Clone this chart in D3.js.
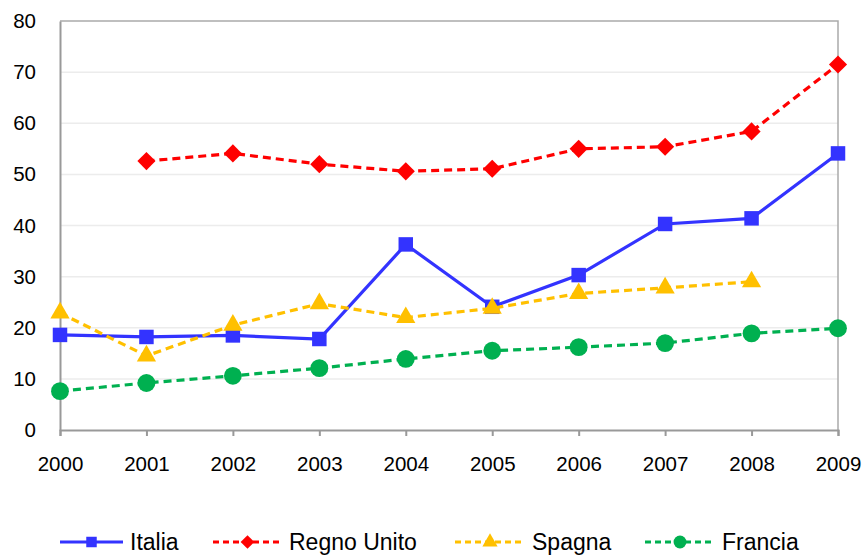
<!DOCTYPE html>
<html>
<head>
<meta charset="utf-8">
<script src="https://cdn.jsdelivr.net/npm/d3@7"></script>
<style>
  body { margin: 0; background: #fff; }
  svg text { font-family: "Liberation Sans", Arial, sans-serif; fill: #000; }
</style>
</head>
<body>
<div id="chart"></div>
<script>
// data
const years = [2000, 2001, 2002, 2003, 2004, 2005, 2006, 2007, 2008, 2009];
const italia = [18.6, 18.2, 18.5, 17.8, 36.3, 24.1, 30.3, 40.3, 41.4, 54.1];
const regnoUnito = [null, 52.6, 54.1, 52.0, 50.6, 51.1, 55.0, 55.4, 58.4, 71.5];
const spagna = [22.9, 14.5, 20.5, 24.7, 22.0, 23.8, 26.7, 27.8, 29.0, null];
const francia = [7.6, 9.2, 10.6, 12.1, 13.9, 15.5, 16.2, 17.0, 18.9, 19.9];
const yTicks = [0, 10, 20, 30, 40, 50, 60, 70, 80];

const series = [
  { name: "Italia", values: italia, color: "#3333ff", dash: null, marker: "square" },
  { name: "Regno Unito", values: regnoUnito, color: "#ff0000", dash: "8,5", marker: "diamond" },
  { name: "Spagna", values: spagna, color: "#ffc000", dash: "8,5", marker: "triangle" },
  { name: "Francia", values: francia, color: "#00b050", dash: "8,5", marker: "circle" }
];

const width = 863, height = 555;
const margin = { top: 21, right: 25, bottom: 125, left: 60 };

const svg = d3.select("#chart").append("svg")
  .attr("width", width)
  .attr("height", height);

const x = d3.scalePoint()
  .domain(years)
  .range([margin.left, width - margin.right]);

const y = d3.scaleLinear()
  .domain([0, 80])
  .range([height - margin.bottom, margin.top]);

// gridlines
svg.append("g")
  .selectAll("line")
  .data(yTicks.filter(d => d > 0 && d < 80))
  .join("line")
  .attr("x1", margin.left)
  .attr("x2", width - margin.right)
  .attr("y1", d => y(d))
  .attr("y2", d => y(d))
  .attr("stroke", "#ececec")
  .attr("stroke-width", 1.5);

// frame (top + right)
svg.append("path")
  .attr("d", `M${margin.left},${y(80)}H${width - margin.right}V${y(0)}`)
  .attr("fill", "none")
  .attr("stroke", "#aaaaaa")
  .attr("stroke-width", 1.5);

// y axis
const yAxis = svg.append("g")
  .attr("transform", `translate(${margin.left},0)`)
  .call(d3.axisLeft(y).tickValues(yTicks).tickSize(0).tickPadding(24));
yAxis.select(".domain").attr("stroke", "#999").attr("stroke-width", 2);
yAxis.selectAll("text").style("font-size", "20.5px");

// x axis
const xAxis = svg.append("g")
  .attr("transform", `translate(0,${y(0)})`)
  .call(d3.axisBottom(x).tickSize(6).tickPadding(20).tickFormat(d3.format("d")));
xAxis.select(".domain").attr("stroke", "#999").attr("stroke-width", 2);
xAxis.selectAll(".tick line").attr("stroke", "#999").attr("stroke-width", 2);
xAxis.selectAll("text").style("font-size", "20.5px");

// marker shapes
const symbolOf = {
  square: d3.symbol(d3.symbolSquare, 210),
  diamond: d3.symbol(d3.symbolDiamond2, 210),
  triangle: d3.symbol(d3.symbolTriangle, 160),
  circle: d3.symbol(d3.symbolCircle, 250)
};
const legendSymbol = {
  square: d3.symbol(d3.symbolSquare, 110),
  diamond: d3.symbol(d3.symbolDiamond2, 120),
  triangle: d3.symbol(d3.symbolTriangle, 100),
  circle: d3.symbol(d3.symbolCircle, 130)
};

const line = d3.line()
  .defined(d => d.v != null)
  .x(d => x(d.year))
  .y(d => y(d.v));

series.forEach(s => {
  const pts = years.map((yr, i) => ({ year: yr, v: s.values[i] }));
  const g = svg.append("g");
  g.append("path")
    .datum(pts)
    .attr("d", line)
    .attr("fill", "none")
    .attr("stroke", s.color)
    .attr("stroke-width", 3.2)
    .attr("stroke-dasharray", s.dash);
  g.selectAll("path.mk")
    .data(pts.filter(d => d.v != null))
    .join("path")
    .attr("class", "mk")
    .attr("d", symbolOf[s.marker]())
    .attr("transform", d => `translate(${x(d.year)},${y(d.v)})`)
    .attr("fill", s.color);
});

// legend
const legendY = 542;
const legendItems = [
  { x0: 60, x1: 123, tx: 130 },
  { x0: 213, x1: 282, tx: 289 },
  { x0: 455, x1: 525, tx: 532 },
  { x0: 645, x1: 715, tx: 722 }
];
series.forEach((s, i) => {
  const li = legendItems[i];
  const g = svg.append("g");
  g.append("line")
    .attr("x1", li.x0).attr("x2", li.x1)
    .attr("y1", legendY).attr("y2", legendY)
    .attr("stroke", s.color)
    .attr("stroke-width", 3)
    .attr("stroke-dasharray", s.dash ? "6,4" : null);
  g.append("path")
    .attr("d", legendSymbol[s.marker]())
    .attr("transform", `translate(${(li.x0 + li.x1) / 2},${legendY})`)
    .attr("fill", s.color);
  g.append("text")
    .attr("x", li.tx)
    .attr("y", legendY)
    .attr("dy", "0.36em")
    .style("font-size", "23px")
    .text(s.name);
});
</script>
</body>
</html>
